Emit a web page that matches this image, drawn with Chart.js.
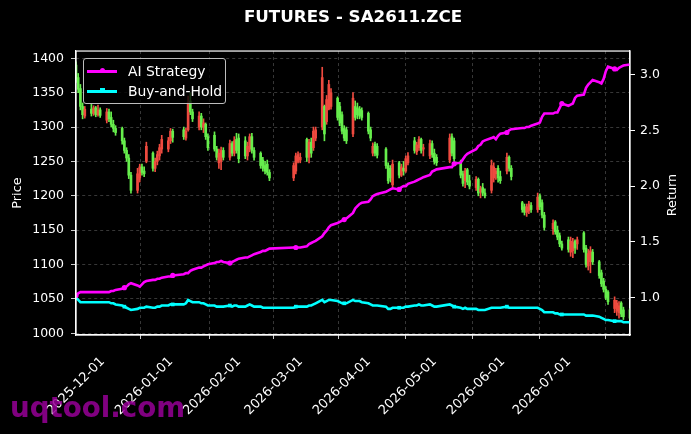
<!DOCTYPE html>
<html>
<head>
<meta charset="utf-8">
<script src="https://cdn.jsdelivr.net/npm/chart.js@4.4.1/dist/chart.umd.min.js"></script>
<style>
  html, body { margin: 0; padding: 0; background: #000; }
  #wrap { position: relative; width: 691px; height: 434px; overflow: hidden; }
  #legend {
    position: absolute; left: 83px; top: 58px; width: 143px; height: 46px;
    box-sizing: border-box; border: 1px solid #bdbdbd; border-radius: 3px;
    background: rgba(0,0,0,0.8); font: 13.9px "DejaVu Sans"; color: #fff;
  }
  .row { position: absolute; left: 0; height: 20px; line-height: 20px; white-space: nowrap; }
  .row span.txt { position: absolute; left: 44px; }
  .sw { position: absolute; left: 3px; top: 9px; width: 30px; height: 2.6px; }
  .mk { position: absolute; left: 12.5px; top: -1.7px; width: 5px; height: 5px; }
  #mark {
    position: absolute; left: 10px; top: 391px; font: bold 27.7px "DejaVu Sans";
    color: rgba(150,0,150,0.85); white-space: nowrap;
  }
</style>
</head>
<body>
<div id="wrap">
  <canvas id="chart" width="691" height="434"></canvas>
  <div id="legend">
    <div class="row" style="top:2px"><div class="sw" style="background:#ff00ff"><div class="mk" style="background:#ff00ff;border-radius:50%"></div></div><span class="txt">AI Strategy</span></div>
    <div class="row" style="top:22px"><div class="sw" style="background:#00ffff"><div class="mk" style="background:#00ffff"></div></div><span class="txt">Buy-and-Hold</span></div>
  </div>
  <div id="mark">uqtool.com</div>
</div>
<script>
// trading days shown on the chart
const dates = [
  '2025-11-17','2025-11-18','2025-11-19','2025-11-20','2025-11-21','2025-11-24','2025-11-25','2025-11-26','2025-11-27','2025-11-28',
  '2025-12-01','2025-12-02','2025-12-03','2025-12-04','2025-12-05','2025-12-08','2025-12-09','2025-12-10','2025-12-11','2025-12-12',
  '2025-12-15','2025-12-16','2025-12-17','2025-12-18','2025-12-19','2025-12-22','2025-12-23','2025-12-24','2025-12-25','2025-12-26',
  '2025-12-29','2025-12-30','2025-12-31',
  '2026-01-05','2026-01-06','2026-01-07','2026-01-08','2026-01-09','2026-01-12','2026-01-13','2026-01-14','2026-01-15','2026-01-16',
  '2026-01-19','2026-01-20','2026-01-21','2026-01-22','2026-01-23','2026-01-26','2026-01-27','2026-01-28','2026-01-29','2026-01-30',
  '2026-02-02','2026-02-03','2026-02-04','2026-02-05','2026-02-06','2026-02-09','2026-02-10','2026-02-11','2026-02-12','2026-02-13',
  '2026-02-24','2026-02-25','2026-02-26','2026-02-27',
  '2026-03-02','2026-03-03','2026-03-04','2026-03-05','2026-03-06','2026-03-09','2026-03-10','2026-03-11','2026-03-12','2026-03-13',
  '2026-03-16','2026-03-17','2026-03-18','2026-03-19','2026-03-20','2026-03-23','2026-03-24','2026-03-25','2026-03-26','2026-03-27',
  '2026-03-30','2026-03-31',
  '2026-04-01','2026-04-02','2026-04-03','2026-04-07','2026-04-08','2026-04-09','2026-04-10','2026-04-13','2026-04-14','2026-04-15',
  '2026-04-16','2026-04-17','2026-04-20','2026-04-21','2026-04-22','2026-04-23','2026-04-24','2026-04-27','2026-04-28','2026-04-29',
  '2026-04-30',
  '2026-05-06','2026-05-07','2026-05-08','2026-05-11','2026-05-12','2026-05-13','2026-05-14','2026-05-15','2026-05-18','2026-05-19',
  '2026-05-20','2026-05-21','2026-05-22','2026-05-25','2026-05-26','2026-05-27','2026-05-28','2026-05-29',
  '2026-06-01','2026-06-02','2026-06-03','2026-06-08','2026-06-09','2026-06-10','2026-06-11','2026-06-12','2026-06-15','2026-06-16',
  '2026-06-17','2026-06-18','2026-06-22','2026-06-23','2026-06-24','2026-06-25','2026-06-26','2026-06-29','2026-06-30',
  '2026-07-01','2026-07-02','2026-07-03','2026-07-06','2026-07-07','2026-07-08','2026-07-09','2026-07-10','2026-07-13','2026-07-14',
  '2026-07-15','2026-07-16','2026-07-17','2026-07-20','2026-07-21','2026-07-22','2026-07-23','2026-07-24','2026-07-27'
];

const opens = [
  1390,1372,1356,1330,1316,1326,1320,1328,1318,1325,
  1310,1322,1314,1304,1298,1298,1280,1266,1255,1230,1208,1226,1242,1236,1250,1262,1240,1250,1258,1268,1268,1280,1294,
  1296,1284,1296,1338,1322,1300,1316,1300,1304,1286,1288,1268,1248,1250,1266,1256,1276,1262,1282,1284,
  1280,1258,1268,1286,1266,1262,1252,1244,1246,1234,1226,1236,1250,1252,
  1282,1256,1278,1270,1284,1300,1330,1308,1326,1330,1342,1330,1318,1298,1296,1290,1330,1328,1326,1324,1320,1296,
  1262,1275,1272,1268,1244,1240,1216,1248,1230,1240,1236,1248,1280,1264,1270,1282,1268,1258,1276,1262,1256,
  1252,1286,1280,1250,1232,1222,1238,1222,1212,1224,1206,1212,1204,1208,1226,1232,1240,1228,
  1236,1256,1240,1190,1184,1176,1178,1186,1180,1200,1190,1172,1152,1162,1150,1142,1130,1136,1118,
  1120,1134,1130,1146,1124,1098,1104,1118,1104,1088,1076,1064,1060,1036,1032,1030,1044,1034,1034
];
const highs = [
  1395,1378,1362,1335,1330,1333,1331,1330,1332,1328,
  1327,1326,1322,1310,1302,1300,1284,1270,1260,1234,1240,1246,1246,1242,1278,1264,1255,1265,1275,1288,1285,1298,1297,
  1300,1298,1345,1350,1326,1322,1320,1312,1306,1290,1293,1272,1268,1271,1270,1281,1279,1286,1291,1290,
  1286,1278,1290,1291,1270,1264,1256,1250,1252,1238,1248,1262,1264,1262,
  1284,1282,1284,1300,1300,1387,1332,1346,1368,1356,1344,1336,1322,1302,1300,1350,1338,1335,1330,1328,1322,1300,
  1277,1278,1276,1270,1248,1244,1252,1250,1246,1250,1258,1263,1285,1278,1286,1284,1275,1281,1280,1268,1260,
  1290,1290,1284,1252,1236,1240,1240,1230,1228,1226,1214,1218,1210,1252,1248,1240,1244,1236,
  1262,1258,1244,1192,1188,1188,1192,1190,1204,1203,1194,1176,1165,1164,1156,1146,1134,1140,1140,
  1138,1136,1140,1148,1128,1122,1126,1122,1106,1092,1080,1068,1062,1053,1048,1046,1046,1038,1036
];
const lows = [
  1365,1350,1325,1312,1313,1316,1317,1315,1316,1314,
  1306,1308,1300,1293,1288,1275,1262,1250,1225,1204,1204,1220,1230,1228,1248,1236,1235,1245,1252,1262,1264,1276,1278,
  1282,1281,1294,1318,1308,1296,1296,1292,1282,1266,1265,1252,1240,1238,1252,1252,1258,1258,1262,1248,
  1254,1252,1264,1262,1252,1240,1236,1232,1230,1222,1222,1232,1248,1248,
  1250,1248,1256,1266,1280,1296,1280,1304,1325,1326,1310,1302,1290,1280,1276,1286,1310,1312,1312,1310,1290,1280,
  1258,1258,1255,1240,1218,1220,1211,1226,1228,1230,1234,1245,1262,1260,1266,1262,1258,1254,1256,1246,1244,
  1248,1258,1250,1226,1214,1212,1216,1210,1208,1200,1197,1200,1197,1204,1220,1224,1220,1218,
  1232,1236,1223,1176,1172,1170,1174,1176,1176,1180,1168,1150,1144,1144,1136,1126,1121,1118,1112,
  1110,1116,1122,1118,1096,1092,1088,1100,1080,1068,1060,1049,1042,1030,1026,1022,1024,1020,1020
];
const closes = [
  1370,1355,1330,1318,1326,1320,1328,1318,1325,1317,
  1322,1312,1304,1298,1292,1280,1266,1255,1230,1208,1232,1242,1234,1232,1272,1240,1250,1260,1270,1282,1280,1294,1285,
  1286,1294,1336,1322,1312,1316,1300,1306,1286,1270,1268,1256,1262,1266,1256,1276,1262,1280,1266,1254,
  1258,1272,1286,1266,1256,1244,1240,1236,1234,1226,1244,1258,1260,1256,
  1256,1278,1262,1294,1296,1372,1290,1340,1362,1350,1314,1306,1294,1284,1280,1342,1314,1318,1316,1314,1294,1284,
  1272,1262,1259,1244,1222,1226,1246,1230,1242,1236,1254,1258,1266,1274,1282,1266,1270,1276,1260,1250,1248,
  1284,1262,1254,1230,1218,1236,1220,1214,1224,1204,1210,1204,1200,1244,1242,1236,1226,1222,
  1256,1240,1228,1180,1176,1184,1188,1180,1198,1184,1172,1154,1160,1148,1140,1130,1124,1122,1134,
  1132,1124,1136,1122,1100,1116,1120,1104,1084,1072,1064,1052,1046,1048,1044,1040,1028,1024,1022
];

// cumulative return of the two strategies (right axis)
const aiReturn = [
  1.02,1.04,1.05,1.05,1.05,1.05,1.05,1.05,1.05,1.05,
  1.05,1.05,1.06,1.06,1.07,1.08,1.09,1.10,1.12,1.13,1.11,1.10,1.12,1.14,1.15,1.16,1.16,1.17,1.17,1.18,1.19,1.19,1.20,
  1.21,1.22,1.22,1.24,1.25,1.27,1.27,1.28,1.29,1.30,1.31,1.32,1.32,1.33,1.32,1.31,1.32,1.33,1.34,1.35,
  1.36,1.36,1.37,1.38,1.39,1.41,1.42,1.42,1.43,1.44,1.45,1.45,1.45,1.45,
  1.46,1.48,1.49,1.50,1.51,1.55,1.58,1.60,1.63,1.65,1.67,1.68,1.69,1.70,1.71,1.76,1.80,1.82,1.84,1.85,1.86,1.88,
  1.91,1.92,1.93,1.95,1.96,1.97,1.98,1.97,1.99,2.00,2.00,2.02,2.04,2.05,2.06,2.07,2.08,2.10,2.13,2.14,2.15,
  2.17,2.17,2.20,2.21,2.24,2.27,2.29,2.30,2.33,2.36,2.37,2.40,2.41,2.43,2.44,2.42,2.45,2.47,
  2.48,2.50,2.51,2.52,2.52,2.53,2.53,2.54,2.56,2.57,2.62,2.65,2.65,2.66,2.66,2.70,2.74,2.72,2.73,
  2.74,2.79,2.81,2.82,2.88,2.91,2.93,2.95,2.93,2.92,2.96,3.03,3.07,3.05,3.04,3.06,3.07,3.08,3.09
];
const bhReturn = [
  1.00,0.98,0.96,0.96,0.96,0.96,0.96,0.96,0.96,0.96,
  0.96,0.96,0.95,0.95,0.94,0.93,0.92,0.91,0.90,0.89,0.90,0.91,0.91,0.91,0.92,0.91,0.91,0.92,0.92,0.93,0.93,0.94,0.94,
  0.94,0.95,0.98,0.97,0.96,0.96,0.95,0.95,0.94,0.93,0.93,0.92,0.92,0.92,0.92,0.93,0.92,0.93,0.93,0.92,
  0.92,0.93,0.94,0.93,0.92,0.92,0.91,0.91,0.91,0.91,0.91,0.92,0.92,0.92,
  0.92,0.93,0.93,0.94,0.95,0.98,0.96,0.97,0.98,0.98,0.97,0.96,0.95,0.95,0.95,0.98,0.97,0.97,0.97,0.96,0.95,0.94,
  0.93,0.93,0.93,0.92,0.90,0.90,0.91,0.91,0.91,0.91,0.92,0.92,0.93,0.93,0.94,0.93,0.93,0.94,0.93,0.92,0.92,
  0.94,0.93,0.92,0.91,0.90,0.91,0.90,0.90,0.90,0.89,0.89,0.89,0.89,0.91,0.91,0.91,0.91,0.91,
  0.92,0.91,0.91,0.91,0.91,0.91,0.91,0.91,0.91,0.90,0.89,0.87,0.87,0.86,0.86,0.85,0.85,0.85,0.85,
  0.85,0.85,0.85,0.85,0.84,0.84,0.84,0.84,0.83,0.82,0.81,0.80,0.80,0.79,0.79,0.79,0.79,0.78,0.78
];

const monthTicks = ['2025-12-01','2026-01-01','2026-02-01','2026-03-01','2026-04-01','2026-05-01','2026-06-01','2026-07-01'];
const priceTicks = [1000, 1050, 1100, 1150, 1200, 1250, 1300, 1350, 1400];
const returnTicks = [1.0, 1.5, 2.0, 2.5, 3.0];

const DAY = 86400000;
const toDay = s => Date.parse(s + 'T00:00:00Z') / DAY;
const fromDay = d => new Date(d * DAY).toISOString().slice(0, 10);
const xs = dates.map(toDay);

const UP = '#ee4a3f', DOWN = '#66ee4c';
const candleColors = closes.map((c, i) => c >= opens[i] ? UP : DOWN);
const marker = ctx => (ctx.dataIndex % 16 === 0 ? 2.6 : 0);

Chart.defaults.font.family = '"DejaVu Sans", sans-serif';
Chart.defaults.font.size = 12.5;
Chart.defaults.color = '#fff';

// white box round the plot, plus the right axis title read bottom-to-top
const frame = {
  id: 'frame',
  afterDraw(chart) {
    const {ctx, chartArea: a} = chart;
    ctx.save();
    ctx.strokeStyle = '#fff';
    ctx.lineWidth = 1.2;
    ctx.strokeRect(a.left, a.top, a.right - a.left, a.bottom - a.top);
    ctx.translate(673, (a.top + a.bottom) / 2 + 2);
    ctx.rotate(-Math.PI / 2);
    ctx.fillStyle = '#fff';
    ctx.font = '12.8px "DejaVu Sans"';
    ctx.textAlign = 'center';
    ctx.textBaseline = 'middle';
    ctx.fillText('Return', 0, 0);
    ctx.restore();
  }
};

const gridDash = {color: '#fff', width: 1.2, dash: [3, 3]};

new Chart(document.getElementById('chart').getContext('2d'), {
  type: 'bar',
  data: {
    datasets: [
      {
        label: 'wick',
        data: xs.map((x, i) => ({x, y: [lows[i], highs[i]]})),
        backgroundColor: candleColors,
        barThickness: 1,
        grouped: false,
        yAxisID: 'y',
        order: 3
      },
      {
        label: 'body',
        data: xs.map((x, i) => ({x, y: [opens[i], closes[i]]})),
        backgroundColor: candleColors,
        barThickness: 2,
        grouped: false,
        yAxisID: 'y',
        order: 2
      },
      {
        type: 'line',
        label: 'AI Strategy',
        data: xs.map((x, i) => ({x, y: aiReturn[i]})),
        borderColor: '#ff00ff',
        backgroundColor: '#ff00ff',
        borderWidth: 2.6,
        pointRadius: marker,
        pointStyle: 'circle',
        pointBorderWidth: 0,
        tension: 0,
        yAxisID: 'y1',
        order: 1
      },
      {
        type: 'line',
        label: 'Buy-and-Hold',
        data: xs.map((x, i) => ({x, y: bhReturn[i]})),
        borderColor: '#00ffff',
        backgroundColor: '#00ffff',
        borderWidth: 2.6,
        pointRadius: marker,
        pointStyle: 'rect',
        pointBorderWidth: 0,
        tension: 0,
        yAxisID: 'y1',
        order: 1
      }
    ]
  },
  options: {
    responsive: false,
    animation: false,
    layout: {padding: 0},
    plugins: {
      legend: {display: false},
      tooltip: {enabled: false},
      title: {
        display: true,
        text: 'FUTURES - SA2611.ZCE',
        color: '#fff',
        fullSize: false,
        font: {size: 16.7, weight: 'bold'},
        padding: {top: 8, bottom: 23}
      }
    },
    scales: {
      x: {
        type: 'linear',
        offset: false,
        min: toDay('2025-11-17'),
        max: toDay('2026-07-27'),
        afterBuildTicks: s => { s.ticks = monthTicks.map(m => ({value: toDay(m)})); },
        afterFit: s => { s.height = 99; },
        ticks: {
          callback: v => fromDay(v),
          minRotation: 45,
          maxRotation: 45,
          autoSkip: false,
          padding: 15,
          labelOffset: -4,
          font: {size: 13},
          color: '#fff'
        },
        grid: {color: 'rgba(128,128,128,0.55)', lineWidth: 0.8, tickColor: '#fff', tickLength: 4},
        border: gridDash
      },
      y: {
        position: 'left',
        min: 997.5,
        max: 1410.6,
        afterBuildTicks: s => { s.ticks = priceTicks.map(v => ({value: v})); },
        afterFit: s => { s.width = 76; },
        ticks: {padding: 7, color: '#fff', callback: v => String(v)},
        grid: {color: 'rgba(128,128,128,0.55)', lineWidth: 0.8, tickColor: '#fff', tickLength: 5},
        border: gridDash,
        title: {display: true, text: 'Price', color: '#fff', font: {size: 12.8}, padding: {top: 10, bottom: 0}}
      },
      y1: {
        position: 'right',
        min: 0.666,
        max: 3.21,
        afterBuildTicks: s => { s.ticks = returnTicks.map(v => ({value: v})); },
        afterFit: s => { s.width = 61; },
        ticks: {padding: 5, color: '#fff', callback: v => v.toFixed(1)},
        grid: {drawOnChartArea: false, tickColor: '#fff', tickLength: 5},
        border: {color: '#fff', width: 1.2}
      }
    }
  },
  plugins: [frame]
});
</script>
</body>
</html>
